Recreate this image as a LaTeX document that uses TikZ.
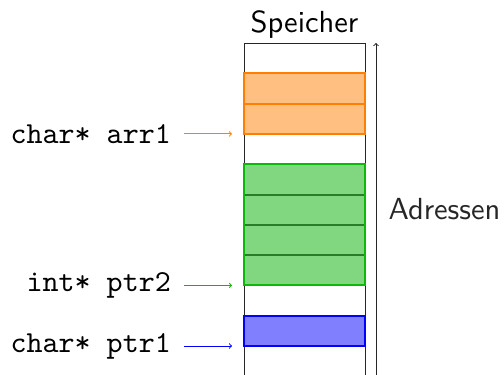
\documentclass[tikz,border=0pt]{standalone}
\usepackage{fontspec}
\newcommand{\bigtxt}[1]{\scalebox{3.05}{#1}}
\begin{document}
\definecolor{orB}{RGB}{255,128,0}
\definecolor{orF}{RGB}{255,191,128}
\definecolor{grB}{RGB}{10,185,10}
\definecolor{grF}{RGB}{128,215,128}
\definecolor{grL}{RGB}{40,125,40}
\definecolor{blB}{RGB}{0,0,255}
\definecolor{blF}{RGB}{128,128,255}
\begin{tikzpicture}[x=1pt,y=-1pt,
  font=\fontsize{10}{12}\selectfont\sffamily,
  cell/.style={minimum width=121pt, minimum height=30.3pt, inner sep=0pt, outer sep=0pt, anchor=north west, line width=2pt},
  lbl/.style={anchor=east, inner xsep=13pt, inner ysep=10pt, font=\fontsize{10}{12}\selectfont\ttfamily},
  ptr/.style={-to, line width=1pt},
  frame/.style={line width=1pt, draw=black!85}]
\useasboundingbox (0,0) rectangle (504,375);
% memory column
\coordinate (ctl) at (244,43);
\coordinate (ctr) at (365,43);
\coordinate (cbl) at (244,376);
\coordinate (cbr) at (365,376);
\draw[frame] (cbl) -- (ctl) -- (ctr) -- (cbr);
\node[anchor=base] (speicher) at (304.5,32) {\bigtxt{Speicher}};
% orange cells
\node[cell, draw=orB, fill=orF] (o1) at (244,73.3) {};
\node[cell, draw=orB, fill=orF] (o2) at (244,103.6) {};
% green cells
\node[cell, draw=grL, fill=grF] (g1) at (244,164.2) {};
\node[cell, draw=grL, fill=grF] (g2) at (244,194.5) {};
\node[cell, draw=grL, fill=grF] (g3) at (244,224.8) {};
\node[cell, draw=grL, fill=grF] (g4) at (244,255.1) {};
\draw[grB, line width=2pt] (g1.north west) rectangle (g4.south east);
% blue cell
\node[cell, draw=blB, fill=blF] (b1) at (244,315.7) {};
% address axis
\coordinate (abot) at (376,376);
\coordinate (atop) at (376,43);
\draw[-to, line width=1pt, black!85] (abot) -- node[right, inner xsep=12pt] (adr) {\bigtxt{Adressen}} (atop);
% pointer labels
\coordinate (tarr) at ([xshift=-12pt]o2.south west);
\coordinate (tptr2) at ([xshift=-12pt]g4.south west);
\coordinate (tptr1) at ([xshift=-12pt]b1.south west);
\node[lbl] (larr) at ([xshift=-48pt]tarr) {\bigtxt{char* arr1}};
\node[lbl] (lptr2) at ([xshift=-48pt]tptr2) {\bigtxt{int* ptr2}};
\node[lbl] (lptr1) at ([xshift=-48pt]tptr1) {\bigtxt{char* ptr1}};
\draw[ptr, orB] (larr.east) -- (tarr);
\draw[ptr, grB] (lptr2.east) -- (tptr2);
\draw[ptr, blB] (lptr1.east) -- (tptr1);
\end{tikzpicture}
\end{document}
